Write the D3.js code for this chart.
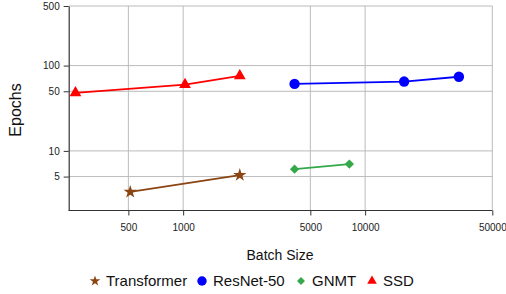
<!DOCTYPE html>
<html><head><meta charset="utf-8">
<script src="https://cdn.jsdelivr.net/npm/d3@7"></script>
<style>body{margin:0;background:#fff}svg{display:block;font-family:"Liberation Sans",Arial,sans-serif}</style>
</head><body>
<svg id="c" width="506" height="294"></svg>
<script>
const seriesNames = ["Transformer","ResNet-50","GNMT","SSD"];
const transformerX = [512, 2048], transformerY = [3.3, 5.2];
const resnetX = [4096, 16384, 32768], resnetY = [61, 65, 74];
const gnmtX = [4096, 8192], gnmtY = [6.1, 7.0];
const ssdX = [256, 1024, 2048], ssdY = [48, 60, 76];
const xTicks = [500, 1000, 5000, 10000, 50000];
const yTicks = [5, 10, 50, 100, 500];
const colors = ["#8b4513", "#0000ff", "#34a84a", "#ff0000"];
const symbols = [d3.symbolStar, d3.symbolCircle, d3.symbolDiamond2, d3.symbolTriangle];

const series = [
  {name: seriesNames[0], x: transformerX, y: transformerY},
  {name: seriesNames[1], x: resnetX, y: resnetY},
  {name: seriesNames[2], x: gnmtX, y: gnmtY},
  {name: seriesNames[3], x: ssdX, y: ssdY}
];

const svg = d3.select("#c");
const L = 68.7, R = 492.3, T = 6, B = 210.5;
const x = d3.scaleLog().domain([235, 50000]).range([L, R]);
const y = d3.scaleLog().domain([2, 500]).range([B, T]);

// grid
const g = svg.append("g");
g.selectAll("line.vx").data(xTicks).enter().append("line")
  .attr("x1", d => x(d)).attr("x2", d => x(d)).attr("y1", T).attr("y2", B)
  .attr("stroke", "#bbb").attr("stroke-width", 1);
g.selectAll("line.hy").data(yTicks).enter().append("line")
  .attr("x1", L).attr("x2", R).attr("y1", d => y(d)).attr("y2", d => y(d))
  .attr("stroke", "#bbb").attr("stroke-width", 1);

// axes
const xAxis = d3.axisBottom(x).tickValues(xTicks).tickFormat(d3.format("d")).tickSize(5).tickSizeOuter(0);
const yAxis = d3.axisLeft(y).tickValues(yTicks).tickFormat(d3.format("d")).tickSize(5).tickSizeOuter(0);
const gx = svg.append("g").attr("transform", `translate(0,${B})`).call(xAxis);
const gy = svg.append("g").attr("transform", `translate(${L},0)`).call(yAxis);
[gx, gy].forEach(a => {
  a.select(".domain").attr("stroke", "#333").attr("stroke-width", 1.2);
  a.selectAll(".tick line").attr("stroke", "#333");
  a.selectAll(".tick text").attr("font-size", 10).attr("fill", "#222").attr("font-family", "Liberation Sans, Arial, sans-serif");
});
gx.select(".domain").attr("d", `M${L},0H${R}`);
gx.selectAll(".tick text").attr("dy", "1.25em");
gy.selectAll(".tick text").attr("x", -9);

// series
const line = d3.line().x(d => x(d[0])).y(d => y(d[1]));
const sizes = [55, 85, 55, 60];
series.forEach((s, i) => {
  const pts = s.x.map((v, j) => [v, s.y[j]]);
  svg.append("path").datum(pts).attr("d", line).attr("fill", "none")
    .attr("stroke", colors[i]).attr("stroke-width", 1.8);
  svg.selectAll(null).data(pts).enter().append("path")
    .attr("d", d3.symbol().type(symbols[i]).size(sizes[i]))
    .attr("transform", d => `translate(${x(d[0])},${y(d[1])})`)
    .attr("fill", colors[i]);
});

// axis titles
svg.append("text").attr("x", 280).attr("y", 260).attr("text-anchor", "middle")
  .attr("font-size", 14).attr("fill", "#111").text("Batch Size");
svg.append("text").attr("transform", "translate(21,110) rotate(-90)").attr("text-anchor", "middle")
  .attr("font-size", 16).attr("fill", "#111").text("Epochs");

// legend
const legX = [95, 202, 301, 372];
const legSizes = [35, 70, 40, 40];
series.forEach((s, i) => {
  svg.append("path").attr("d", d3.symbol().type(symbols[i]).size(legSizes[i]))
    .attr("transform", `translate(${legX[i]},${281})`).attr("fill", colors[i]);
  svg.append("text").attr("x", legX[i] + 11).attr("y", 286).attr("font-size", 15)
    .attr("fill", "#111").text(s.name);
});
</script>
</body></html>
